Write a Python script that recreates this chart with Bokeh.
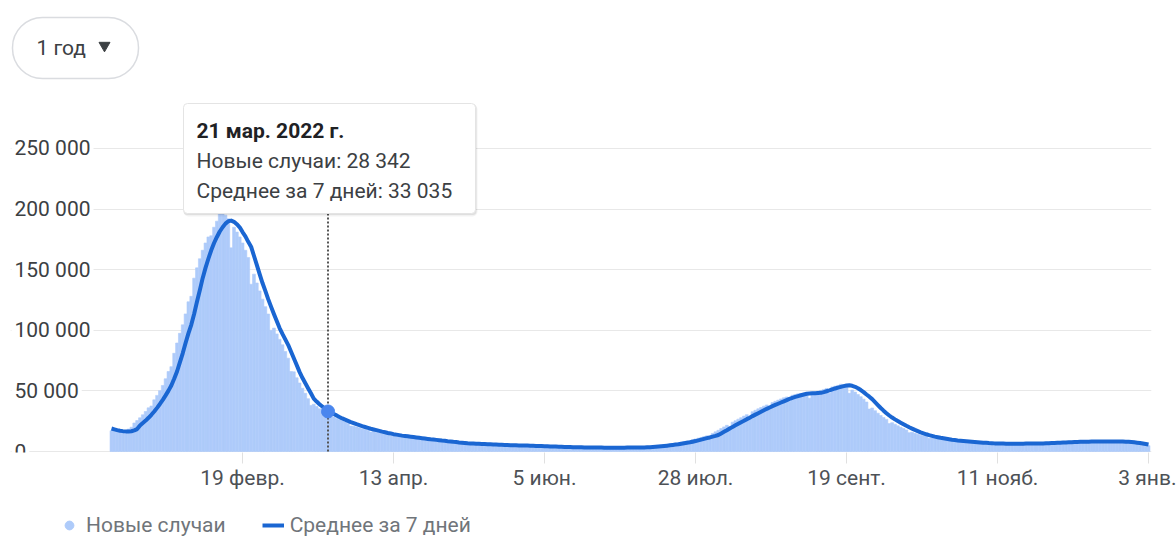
import numpy as np
import pandas as pd
from bokeh.plotting import figure
from bokeh.layouts import column
from bokeh.models import (ColumnDataSource, FixedTicker, Grid, Legend, LegendItem, Range1d)
from bokeh.core.properties import value
from bokeh.embed import file_html
from bokeh.resources import INLINE

# ---------------- data ----------------
start_date = "2022-01-04"

# daily new cases, thousands
new_cases_k = [
    17.1, 16.8, 16.6, 16.5, 16.7, 17.4, 18.5, 20.0, 23.5, 25.5,
    27.8, 30.3, 33.0, 36.0, 37.5, 42.6, 46.3, 50.2, 54.5, 60.0,
    66.0, 70.0, 81.0, 89.5, 97.5, 104.5, 113.5, 123.5, 128.0, 143.0,
    151.5, 159.0, 166.0, 172.0, 177.0, 178.0, 185.0, 190.0, 198.0, 196.0,
    195.0, 192.0, 168.0, 185.0, 181.0, 177.0, 172.0, 166.0, 160.0, 138.0,
    146.3, 139.0, 132.5, 125.7, 119.5, 113.4, 100.0, 101.8, 97.0, 92.5,
    88.0, 82.5, 77.0, 66.0, 65.7, 60.8, 56.5, 52.2, 48.0, 43.6,
    38.0, 39.0, 37.1, 35.2, 33.0, 32.2, 28.342, 28.0, 28.5, 27.3,
    26.3, 25.3, 24.3, 23.4, 21.0, 20.9, 20.2, 19.5, 18.8, 18.2,
    17.6, 16.0, 16.4, 15.9, 15.3, 14.8, 14.3, 13.9, 12.8, 13.1,
    12.8, 12.5, 12.2, 11.9, 11.6, 10.8, 11.0, 10.7, 10.4, 10.1,
    9.9, 9.6, 8.9, 9.0, 8.8, 8.5, 8.3, 8.0, 7.8, 7.2,
    7.3, 7.1, 6.8, 6.6, 6.5, 6.4, 6.0, 6.2, 6.1, 6.0,
    5.9, 5.8, 5.7, 5.3, 5.5, 5.4, 5.3, 5.25, 5.2, 5.1,
    4.8, 5.0, 4.9, 4.85, 4.8, 4.7, 4.6, 4.3, 4.45, 4.4,
    4.3, 4.2, 4.1, 4.05, 3.8, 3.9, 3.8, 3.75, 3.7, 3.6,
    3.55, 3.3, 3.45, 3.4, 3.35, 3.3, 3.3, 3.25, 3.0, 3.2,
    3.15, 3.1, 3.1, 3.1, 3.1, 2.9, 3.15, 3.15, 3.2, 3.2,
    3.25, 3.3, 3.1, 3.35, 3.4, 3.5, 3.6, 3.75, 3.9, 3.9,
    4.3, 4.55, 4.8, 5.1, 5.4, 5.7, 5.6, 6.4, 6.8, 7.2,
    7.6, 8.1, 8.6, 8.6, 9.8, 10.4, 11.0, 11.6, 12.3, 12.9,
    12.6, 14.9, 16.2, 17.5, 18.9, 20.3, 21.6, 20.5, 24.2, 25.4,
    26.7, 27.9, 29.2, 30.4, 28.5, 32.8, 34.0, 35.2, 36.3, 37.4,
    38.4, 35.0, 40.4, 41.4, 42.4, 43.4, 44.3, 45.0, 41.5, 46.4,
    47.0, 47.6, 47.8, 48.0, 48.1, 44.0, 48.4, 49.0, 49.7, 50.4,
    51.2, 52.0, 48.0, 53.3, 53.9, 54.5, 55.5, 55.0, 54.0, 48.0,
    50.7, 49.0, 47.0, 45.2, 43.2, 40.8, 35.0, 35.9, 33.7, 31.6,
    29.7, 28.0, 26.5, 23.0, 23.8, 22.5, 21.2, 20.0, 18.9, 17.8,
    15.5, 15.8, 15.0, 14.2, 13.5, 12.9, 12.3, 11.0, 11.3, 10.9,
    10.5, 10.1, 9.7, 9.4, 8.6, 8.9, 8.7, 8.5, 8.3, 8.1,
    7.9, 7.3, 7.5, 7.3, 7.2, 7.0, 6.9, 6.7, 6.2, 6.5,
    6.5, 6.4, 6.4, 6.4, 6.4, 6.0, 6.4, 6.4, 6.5, 6.5,
    6.5, 6.6, 6.2, 6.6, 6.7, 6.8, 6.9, 7.0, 7.1, 6.7,
    7.3, 7.4, 7.5, 7.6, 7.7, 7.8, 7.4, 8.0, 8.0, 8.1,
    8.1, 8.2, 8.2, 7.8, 8.3, 8.3, 8.3, 8.3, 8.3, 8.3,
    7.8, 8.2, 8.2, 8.1, 8.0, 7.8, 7.6, 6.9, 7.0, 6.6,
    6.2, 5.8, 5.5, 5.2, 4.8,
]

# 7-day average, thousands
avg7_k = [
    19.0, 18.3, 17.6, 17.1, 16.8, 16.6, 16.5, 16.7, 17.4, 18.5,
    21.5, 23.5, 25.5, 27.8, 30.3, 33.0, 36.0, 39.2, 42.6, 46.3,
    50.2, 54.5, 60.0, 66.0, 73.5, 81.0, 89.5, 97.5, 104.5, 113.5,
    123.5, 133.0, 143.0, 151.5, 159.0, 166.0, 172.0, 177.0, 181.5, 185.0,
    188.0, 190.0, 190.5, 189.5, 187.5, 185.0, 181.0, 177.5, 173.0, 169.0,
    161.5, 154.0, 146.3, 139.0, 132.5, 125.7, 119.5, 113.4, 107.6, 101.8,
    97.0, 92.5, 88.0, 82.5, 77.0, 71.3, 65.7, 60.8, 56.5, 52.2,
    48.0, 43.6, 41.2, 39.0, 37.1, 35.2, 33.035, 32.2, 31.0, 29.8,
    28.5, 27.3, 26.3, 25.3, 24.3, 23.4, 22.5, 21.7, 20.9, 20.2,
    19.5, 18.8, 18.2, 17.6, 17.0, 16.4, 15.9, 15.3, 14.8, 14.3,
    13.9, 13.5, 13.1, 12.8, 12.5, 12.2, 11.9, 11.6, 11.3, 11.0,
    10.7, 10.4, 10.1, 9.9, 9.6, 9.3, 9.0, 8.8, 8.5, 8.3,
    8.0, 7.8, 7.5, 7.3, 7.1, 6.8, 6.6, 6.5, 6.4, 6.3,
    6.2, 6.1, 6.0, 5.9, 5.8, 5.7, 5.6, 5.5, 5.4, 5.3,
    5.25, 5.2, 5.1, 5.05, 5.0, 4.9, 4.85, 4.8, 4.7, 4.6,
    4.5, 4.45, 4.4, 4.3, 4.2, 4.1, 4.05, 4.0, 3.9, 3.8,
    3.75, 3.7, 3.6, 3.55, 3.5, 3.45, 3.4, 3.35, 3.3, 3.3,
    3.25, 3.2, 3.2, 3.15, 3.1, 3.1, 3.1, 3.1, 3.1, 3.15,
    3.15, 3.2, 3.2, 3.25, 3.3, 3.3, 3.35, 3.4, 3.5, 3.6,
    3.75, 3.9, 4.1, 4.3, 4.55, 4.8, 5.1, 5.4, 5.7, 6.0,
    6.4, 6.8, 7.2, 7.6, 8.1, 8.6, 9.2, 9.8, 10.4, 11.0,
    11.6, 12.3, 12.9, 13.6, 14.9, 16.2, 17.5, 18.9, 20.3, 21.6,
    22.9, 24.2, 25.4, 26.7, 27.9, 29.2, 30.4, 31.6, 32.8, 34.0,
    35.2, 36.3, 37.4, 38.4, 39.4, 40.4, 41.4, 42.4, 43.4, 44.3,
    45.0, 45.7, 46.4, 47.0, 47.6, 47.8, 48.0, 48.1, 48.3, 48.4,
    49.0, 49.7, 50.4, 51.2, 52.0, 52.7, 53.3, 53.9, 54.5, 54.6,
    54.2, 53.4, 52.2, 50.7, 49.0, 47.0, 45.2, 43.2, 40.8, 38.3,
    35.9, 33.7, 31.6, 29.7, 28.0, 26.5, 25.1, 23.8, 22.5, 21.2,
    20.0, 18.9, 17.8, 16.8, 15.8, 15.0, 14.2, 13.5, 12.9, 12.3,
    11.8, 11.3, 10.9, 10.5, 10.1, 9.7, 9.4, 9.1, 8.9, 8.7,
    8.5, 8.3, 8.1, 7.9, 7.7, 7.5, 7.3, 7.2, 7.0, 6.9,
    6.7, 6.6, 6.5, 6.5, 6.4, 6.4, 6.4, 6.4, 6.4, 6.4,
    6.4, 6.5, 6.5, 6.5, 6.6, 6.6, 6.6, 6.7, 6.8, 6.9,
    7.0, 7.1, 7.2, 7.3, 7.4, 7.5, 7.6, 7.7, 7.8, 7.9,
    8.0, 8.0, 8.1, 8.1, 8.2, 8.2, 8.3, 8.3, 8.3, 8.3,
    8.3, 8.3, 8.3, 8.2, 8.2, 8.2, 8.1, 8.0, 7.8, 7.6,
    7.3, 7.0, 6.6, 6.2, 5.8,
]

xtick_dates = ["2022-02-19", "2022-04-13", "2022-06-05", "2022-07-28",
               "2022-09-19", "2022-11-11", "2023-01-03"]
xtick_labels = ["19 февр.", "13 апр.", "5 июн.", "28 июл.",
                "19 сент.", "11 нояб.", "3 янв."]
ytick_values = [0, 50000, 100000, 150000, 200000, 250000]
ytick_labels = ["0", "50 000", "100 000", "150 000", "200 000", "250 000"]

tooltip_date = "2022-03-21"
tooltip_title = "21 мар. 2022 г."
tooltip_cases = 28342
tooltip_avg = 33035
legend_labels = ["Новые случаи", "Среднее за 7 дней"]
range_label = "1 год"

# ---------------- layout helpers (page pixels -> data) ----------------
DAY_MS = 86400000.0
PPD = 2.849          # pixels per day
X0_PAGE = 111.0      # page x of first date
Y0_PAGE = 451.0      # page y of value 0
VPP = 825.0          # value per pixel
W = 1176
FRAME_L, FRAME_R, FRAME_T, FRAME_B = 10, 1151, 10, 452
MAIN_H = 500
LEG_H = 538 - MAIN_H

BAR_COLOR = "#aecbfa"
LINE_COLOR = "#1a66d2"
TXT = "#3c4043"
FS = "21px"

t0 = pd.Timestamp(start_date).value / 1e6


def xd(px):
    return t0 + (px - X0_PAGE) / PPD * DAY_MS


def yv(py):
    return (Y0_PAGE - py) * VPP


def fmt(n):
    return f"{n:,}".replace(",", " ")


FONT = value("Roboto")

dates_c = pd.date_range(start_date, periods=len(new_cases_k), freq="D")
dates_a = pd.date_range(start_date, periods=len(avg7_k), freq="D")
src_c = ColumnDataSource(dict(date=dates_c, cases=np.array(new_cases_k) * 1000))
src_a = ColumnDataSource(dict(date=dates_a, avg=np.array(avg7_k) * 1000))

p = figure(width=W, height=MAIN_H, x_axis_type="datetime", y_axis_location=None,
           output_backend="svg", toolbar_location=None,
           x_range=Range1d(xd(FRAME_L), xd(FRAME_R)),
           y_range=Range1d(yv(FRAME_B), yv(FRAME_T)),
           min_border_left=FRAME_L, min_border_right=W - FRAME_R,
           min_border_top=FRAME_T, min_border_bottom=MAIN_H - FRAME_B)
p.outline_line_color = None
p.background_fill_color = "white"
p.border_fill_color = "white"
p.xgrid.visible = False
p.ygrid.visible = False
p.add_layout(Grid(dimension=1, ticker=FixedTicker(ticks=ytick_values),
                  grid_line_color="#e8e8e8", grid_line_width=1))

# x axis
xt = [int(pd.Timestamp(d).value // 10**6) for d in xtick_dates]
p.xaxis.ticker = FixedTicker(ticks=xt)
p.xaxis.major_label_overrides = {t: l for t, l in zip(xt, xtick_labels)}
p.xaxis.minor_tick_line_color = None
p.xaxis.axis_line_color = None
p.xaxis.major_tick_in = 0
p.xaxis.major_tick_out = 11
p.xaxis.major_tick_line_color = "#e0e0e0"
p.xaxis.major_label_standoff = 2
p.xaxis.major_label_text_font = "Roboto"
p.xaxis.major_label_text_font_size = FS
p.xaxis.major_label_text_color = "#4d5156"

# y labels (left aligned, covering grid start)
p.text(x=[xd(11)] * len(ytick_values), y=ytick_values, text=ytick_labels,
       text_font=FONT, text_font_size=FS, text_color=TXT,
       text_baseline="middle", text_align="left",
       background_fill_color="white", padding=3)

# bars and average line
p.vbar(x="date", top="cases", width=DAY_MS, source=src_c,
       fill_color=BAR_COLOR, line_color=BAR_COLOR, line_width=0.6)
p.line(x="date", y="avg", source=src_a, line_width=4, line_color=LINE_COLOR,
       line_join="round")

# hover marker and dotted rule
th = pd.Timestamp(tooltip_date)
p.segment(x0=[th], y0=[yv(213)], x1=[th], y1=[yv(FRAME_B)],
          line_color="#555555", line_width=2, line_dash="2 2")
p.scatter(x=[th], y=[tooltip_avg], size=13, marker="circle",
          fill_color="#4a86ee", line_color="#4a86ee")

# tooltip box
p.quad(left=[xd(183)], right=[xd(477)], top=[yv(104)], bottom=[yv(216)],
       fill_color="#000000", fill_alpha=0.05, line_color=None, border_radius=5)
p.quad(left=[xd(183)], right=[xd(476)], top=[yv(103.5)], bottom=[yv(214.5)],
       fill_color="#000000", fill_alpha=0.08, line_color=None, border_radius=4)
p.quad(left=[xd(183)], right=[xd(475)], top=[yv(103)], bottom=[yv(213)],
       fill_color="white", line_color="#e4e4e4", border_radius=4)
p.text(x=[xd(196)], y=[yv(130)], text=[tooltip_title], text_font=FONT,
       text_font_size=FS, text_font_style="bold", text_color="#202124",
       text_baseline="middle", text_align="left")
p.text(x=[xd(196)] * 2, y=[yv(160), yv(190)],
       text=[f"{legend_labels[0]}: {fmt(tooltip_cases)}",
             f"{legend_labels[1]}: {fmt(tooltip_avg)}"],
       text_font=FONT, text_font_size=FS, text_color=TXT,
       text_baseline="middle", text_align="left")

# range selector pill
p.quad(left=[xd(12)], right=[xd(138)], top=[yv(17)], bottom=[yv(78)],
       fill_color="white", line_color="#dadce0", line_width=1.5, border_radius=30)
p.text(x=[xd(36)], y=[yv(47)], text=[range_label], text_font=FONT,
       text_font_size=FS, text_color=TXT,
       text_baseline="middle", text_align="left")
p.scatter(x=[xd(104)], y=[yv(45)], marker="inverted_triangle", size=11,
          fill_color=TXT, line_color=TXT)

# legend strip (separate small figure directly below); the legend's sample
# renderers sit outside that strip's visible range, only their legend glyphs show
p2 = figure(width=W, height=LEG_H, x_axis_location=None, y_axis_location=None,
            output_backend="svg", toolbar_location=None,
            x_range=Range1d(0, 1), y_range=Range1d(0, 1), min_border=0)
p2.outline_line_color = None
p2.xgrid.visible = False
p2.ygrid.visible = False
r_dot = p2.scatter(x=[-5], y=[-5], marker="circle", size=13,
                   fill_color=BAR_COLOR, line_color=BAR_COLOR)
r_ln = p2.line(x=[-5, -4], y=[-5, -5], line_width=4, line_color=LINE_COLOR)
legend = Legend(items=[LegendItem(label=legend_labels[0], renderers=[r_dot]),
                       LegendItem(label=legend_labels[1], renderers=[r_ln])],
                location=(48, 1), orientation="horizontal",
                glyph_width=22, glyph_height=24, label_standoff=6, spacing=36,
                padding=0, margin=0, border_line_color=None,
                background_fill_alpha=0.0,
                label_text_font="Roboto", label_text_font_size=FS,
                label_text_color="#70757a")
p2.add_layout(legend)

open("out.html", "w").write(file_html(column(p, p2), INLINE))
